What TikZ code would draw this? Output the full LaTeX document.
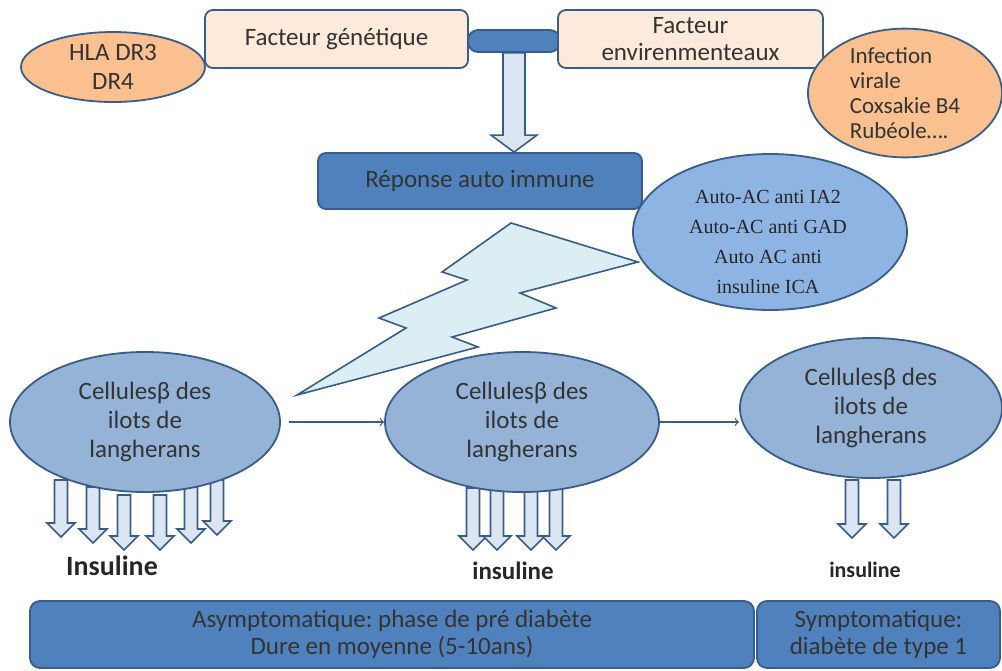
\documentclass[tikz,border=0pt]{standalone}
\usepackage{fontspec}
\setmainfont{Carlito}
\newfontfamily\acfont{Liberation Serif}
\usetikzlibrary{shapes,arrows,calc}
\definecolor{edgeblue}{RGB}{56,93,138}
\definecolor{darkblue}{RGB}{79,129,189}
\definecolor{cellblue}{RGB}{149,179,215}
\definecolor{acblue}{RGB}{141,180,226}
\definecolor{peach}{RGB}{253,234,218}
\definecolor{apricot}{RGB}{250,192,144}
\definecolor{boltcyan}{RGB}{218,238,243}
\definecolor{arrowfill}{RGB}{220,230,242}

\begin{document}
\begin{tikzpicture}[x=0.5pt,y=-0.5pt]
		\tikzstyle {box} = [draw=edgeblue, line width=0.9pt, rounded corners=4pt, inner sep=0pt, align=center, text=black!80, font=\fontsize{12.5}{13.5}\selectfont]
		\tikzstyle {light box} = [box, fill=peach]
		\tikzstyle {dark box} = [box, fill=darkblue]
		\tikzstyle {blob} = [ellipse, draw=edgeblue, line width=0.9pt, inner sep=0pt, align=center, text=black!80, font=\fontsize{12.5}{14.5}\selectfont]
		\tikzstyle {cell} = [blob, fill=cellblue, minimum height=70pt]
		\tikzstyle {block arrow} = [draw=edgeblue, line width=0.8pt, fill=arrowfill]
		\tikzstyle {flow} = [->, draw=edgeblue, line width=0.6pt]
		\tikzstyle {insulin} = [text=black!85]

		\useasboundingbox (0,0) rectangle (1002,670);
		\fill[white] (0,0) rectangle (1002,670);

		\node[dark box, rounded corners=5pt, minimum width=46pt, minimum height=11pt] (bar) at (514,41) {};
		\node[light box, minimum width=131.5pt, minimum height=29pt] (gen) at (336.5,39) {Facteur génétique};
		\node[light box, minimum width=132.5pt, minimum height=29pt] (env) at (690.5,39) {Facteur\\envirenmenteaux};

		\node[blob, fill=apricot, minimum width=92pt, minimum height=35pt] (hla) at (113,67) {HLA DR3\\DR4};
		\node[blob, fill=apricot, minimum width=97pt, minimum height=61pt, align=left, font=\fontsize{11.5}{12.5}\selectfont] (inf) at (905,93) {Infection\\virale\\Coxsakie B4\\Rubéole\dots.};

		\node[dark box, minimum width=162pt, minimum height=28pt] (rep) at (480,181) {Réponse auto immune};

		\coordinate (barfoot) at (bar.south);
		\coordinate (reptop) at (bar.south |- rep.north);
		\draw[block arrow] ($(barfoot)+(-11,0)$) -- ($(barfoot)+(11,0)$) -- ($(reptop)+(11,-17)$) -- ($(reptop)+(23,-17)$) -- (reptop) -- ($(reptop)+(-23,-17)$) -- ($(reptop)+(-11,-17)$) -- cycle;

		\draw[draw=edgeblue, line width=0.8pt, fill=boltcyan] (297,395) -- (478,347) -- (452,337) -- (556,308) -- (520,293) -- (638,262) -- (511,223) -- (442,272) -- (467,280) -- (379,318) -- (406,328) -- cycle;

		\node[blob, fill=acblue, minimum width=137pt, minimum height=78pt] (ac) at (770,232) {};
		\node[text=black!85, align=center, font=\acfont\fontsize{10}{15}\selectfont] (aclist) at (768,242) {Auto-AC anti IA2\\Auto-AC anti GAD\\Auto AC anti\\insuline ICA};

		\foreach \x/\t/\b in {61/480/537, 93/487/543, 124/495/550, 160/495/550, 191/487/543, 217/480/535, 473/488/550, 497/488/550, 531/488/550, 556/488/550, 852/480/538, 894/480/538}
			\draw[block arrow] ({\x-6.5},\t) -- ({\x+6.5},\t) -- ({\x+6.5},{\b-14}) -- ({\x+14},{\b-14}) -- (\x,\b) -- ({\x-14},{\b-14}) -- ({\x-6.5},{\b-14}) -- cycle;

		\node[cell, minimum width=135pt] (cell1) at (145,422) {Cellulesβ des\\ilots de\\langherans};
		\node[cell, minimum width=137pt] (cell2) at (522,422) {Cellulesβ des\\ilots de\\langherans};
		\node[cell, minimum width=131pt] (cell3) at (871,408) {Cellulesβ des\\ilots de\\langherans};

		\draw[flow] ([xshift=4pt]cell1.east) -- (cell2.west);
		\draw[flow] (cell2.east) -- (cell2.east -| cell3.west);

		\node[insulin, font=\fontsize{14}{14}\bfseries] (ins1) at (112,566) {Insuline};
		\node[insulin, font=\fontsize{12.5}{12.5}\bfseries] (ins2) at (513,571) {insuline};
		\node[insulin, font=\fontsize{11}{11}\bfseries] (ins3) at (865,570) {insuline};

		\node[dark box, rounded corners=5pt, minimum width=362pt, minimum height=33.5pt] (asy) at (392,634.5) {Asymptomatique:\ phase de pré diabète\\Dure en moyenne\ (5-10ans)};
		\node[dark box, rounded corners=5pt, minimum width=121.5pt, minimum height=33.5pt] (sym) at (878.5,634.5) {Symptomatique:\\diabète de type 1};
	\end{tikzpicture}
\end{document}
